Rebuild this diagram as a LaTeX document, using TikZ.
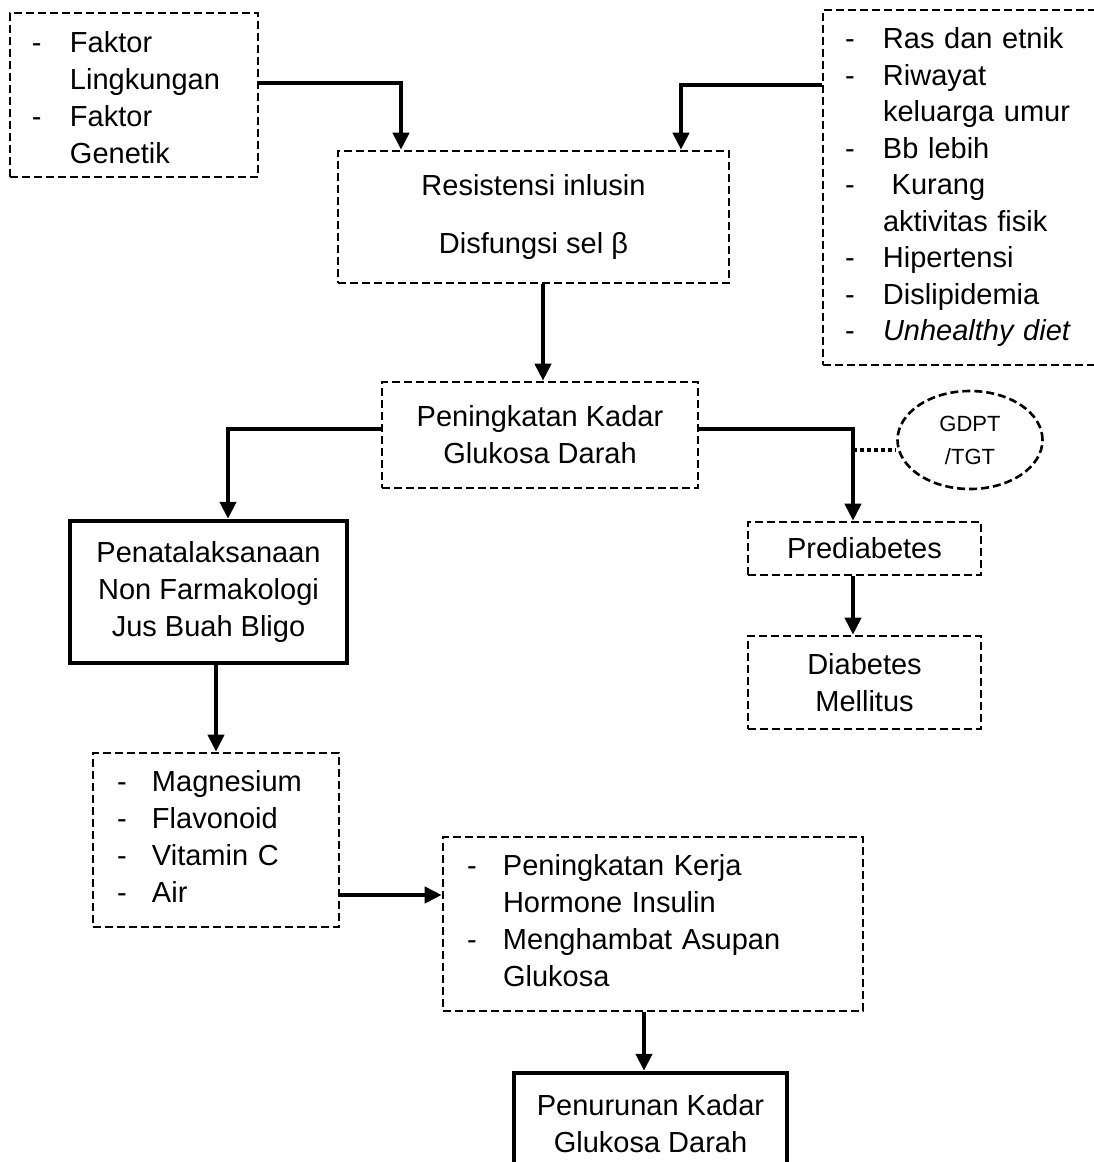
\documentclass[tikz,border=0pt]{standalone}
\usepackage{fontspec}
\setmainfont{Liberation Sans}
\usetikzlibrary{arrows.meta}
\usetikzlibrary{shapes.geometric}

\newcommand{\bodyfont}{\fontsize{14.5}{18.5}\selectfont}

\begin{document}
\begin{tikzpicture}[x=0.5pt, y=-0.5pt,
  every node/.style={font=\bodyfont},
  dbox/.style={draw, line width=1.3pt, dash pattern=on 4pt off 2pt, rectangle, inner sep=0pt},
  sbox/.style={draw, line width=2.2pt, rectangle, inner sep=0pt, align=center},
  lbox/.style={dbox, inner xsep=#1, align=left},
  arr/.style={line width=2pt, -{Triangle[width=8pt,length=8.5pt]}},
  dotline/.style={line width=2pt, dash pattern=on 2pt off 1.5pt}]
\useasboundingbox (0,0) rectangle (1093,1162);

\node[lbox=11pt, text width=102pt, minimum height=82pt] (A) at (134,95)
  {\begin{tabular}{@{}p{19pt}@{}l@{}}
  -\rule{0pt}{18.95pt} & Faktor\\
    & Lingkungan\\
  - & Faktor\\
    & Genetik
  \end{tabular}};

\node[dbox, align=center, minimum width=195.5pt, minimum height=66pt] (B) at (533.5,217)
  {Resistensi inlusin\\[10.5pt] Disfungsi sel β};

\node[lbox=11pt, text width=116.5pt, minimum height=177.5pt,
  font=\fontsize{14.5}{18.25}\selectfont] (C) at (961.5,187.5)
  {\begin{tabular}{@{}p{19pt}@{}l@{}}
  - & Ras dan etnik\\
  - & Riwayat\\
    & keluarga umur\\
  - & Bb lebih\\
  - & \hspace{0.3em}Kurang\\
    & aktivitas fisik\\
  - & Hipertensi\\
  - & Dislipidemia\\
  - & \textit{Unhealthy diet}
  \end{tabular}};

\node[dbox, align=center, minimum width=158pt, minimum height=53pt] (D) at (540,435)
  {Peningkatan Kadar\\ Glukosa Darah};

\node[sbox, minimum width=138.5pt, minimum height=71pt] (E) at (208.5,592)
  {Penatalaksanaan\\ Non Farmakologi\\ Jus Buah Bligo};

\node[dbox, minimum width=116.5pt, minimum height=26.5pt] (P) at (864.5,548.5)
  {Prediabetes};

\node[dbox, align=center, minimum width=116.5pt, minimum height=46.5pt] (Dm) at (864.5,682.5)
  {Diabetes\\ Mellitus};

\node[draw, ellipse, line width=1.3pt, dash pattern=on 4pt off 2pt, inner sep=0pt,
  minimum width=72.5pt, minimum height=49pt, align=center,
  font=\fontsize{11}{16.5}\selectfont] (T) at (970,440)
  {GDPT\\ /TGT};

\node[lbox=12pt, text width=99pt, minimum height=87pt] (F) at (216,840)
  {\begin{tabular}{@{}p{17.5pt}@{}l@{}}
  - & Magnesium\\
  - & Flavonoid\\
  - & Vitamin C\\
  - & Air
  \end{tabular}};

\node[lbox=12pt, text width=186pt, minimum height=87pt] (G) at (653,924)
  {\begin{tabular}{@{}p{18pt}@{}l@{}}
  - & Peningkatan Kerja\\
    & Hormone Insulin\\
  - & Menghambat Asupan\\
    & Glukosa
  \end{tabular}};

\node[sbox, minimum width=136.5pt, minimum height=51pt] (H) at (650.5,1124)
  {Penurunan Kadar\\ Glukosa Darah};

\draw[arr] ([yshift=6pt]A.east) -| ([xshift=-66.25pt]B.north);
\draw[arr] ([yshift=51.25pt]C.west) -| ([xshift=73.75pt]B.north);
\draw[arr] ([xshift=4.75pt]B.south) -- ([xshift=4.75pt]B.south |- D.north);
\draw[arr] ([yshift=3pt]D.west) -| ([xshift=9.75pt]E.north);
\draw[arr] ([yshift=3pt]D.east) -| ([xshift=-5.75pt]P.north);
\draw[arr] ([xshift=-5.75pt]P.south) -- ([xshift=-5.75pt]Dm.north);
\coordinate (tap) at (853,450);
\draw[dotline] (tap) -- (tap -| T.west);
\draw[arr] (F.north |- E.south) -- (F.north);
\draw[arr] ([yshift=-27.5pt]F.east) -- ([yshift=-27.5pt]F.east -| G.west);
\draw[arr] ([xshift=-3.25pt]H.north |- G.south) -- ([xshift=-3.25pt]H.north);
\end{tikzpicture}
\end{document}
